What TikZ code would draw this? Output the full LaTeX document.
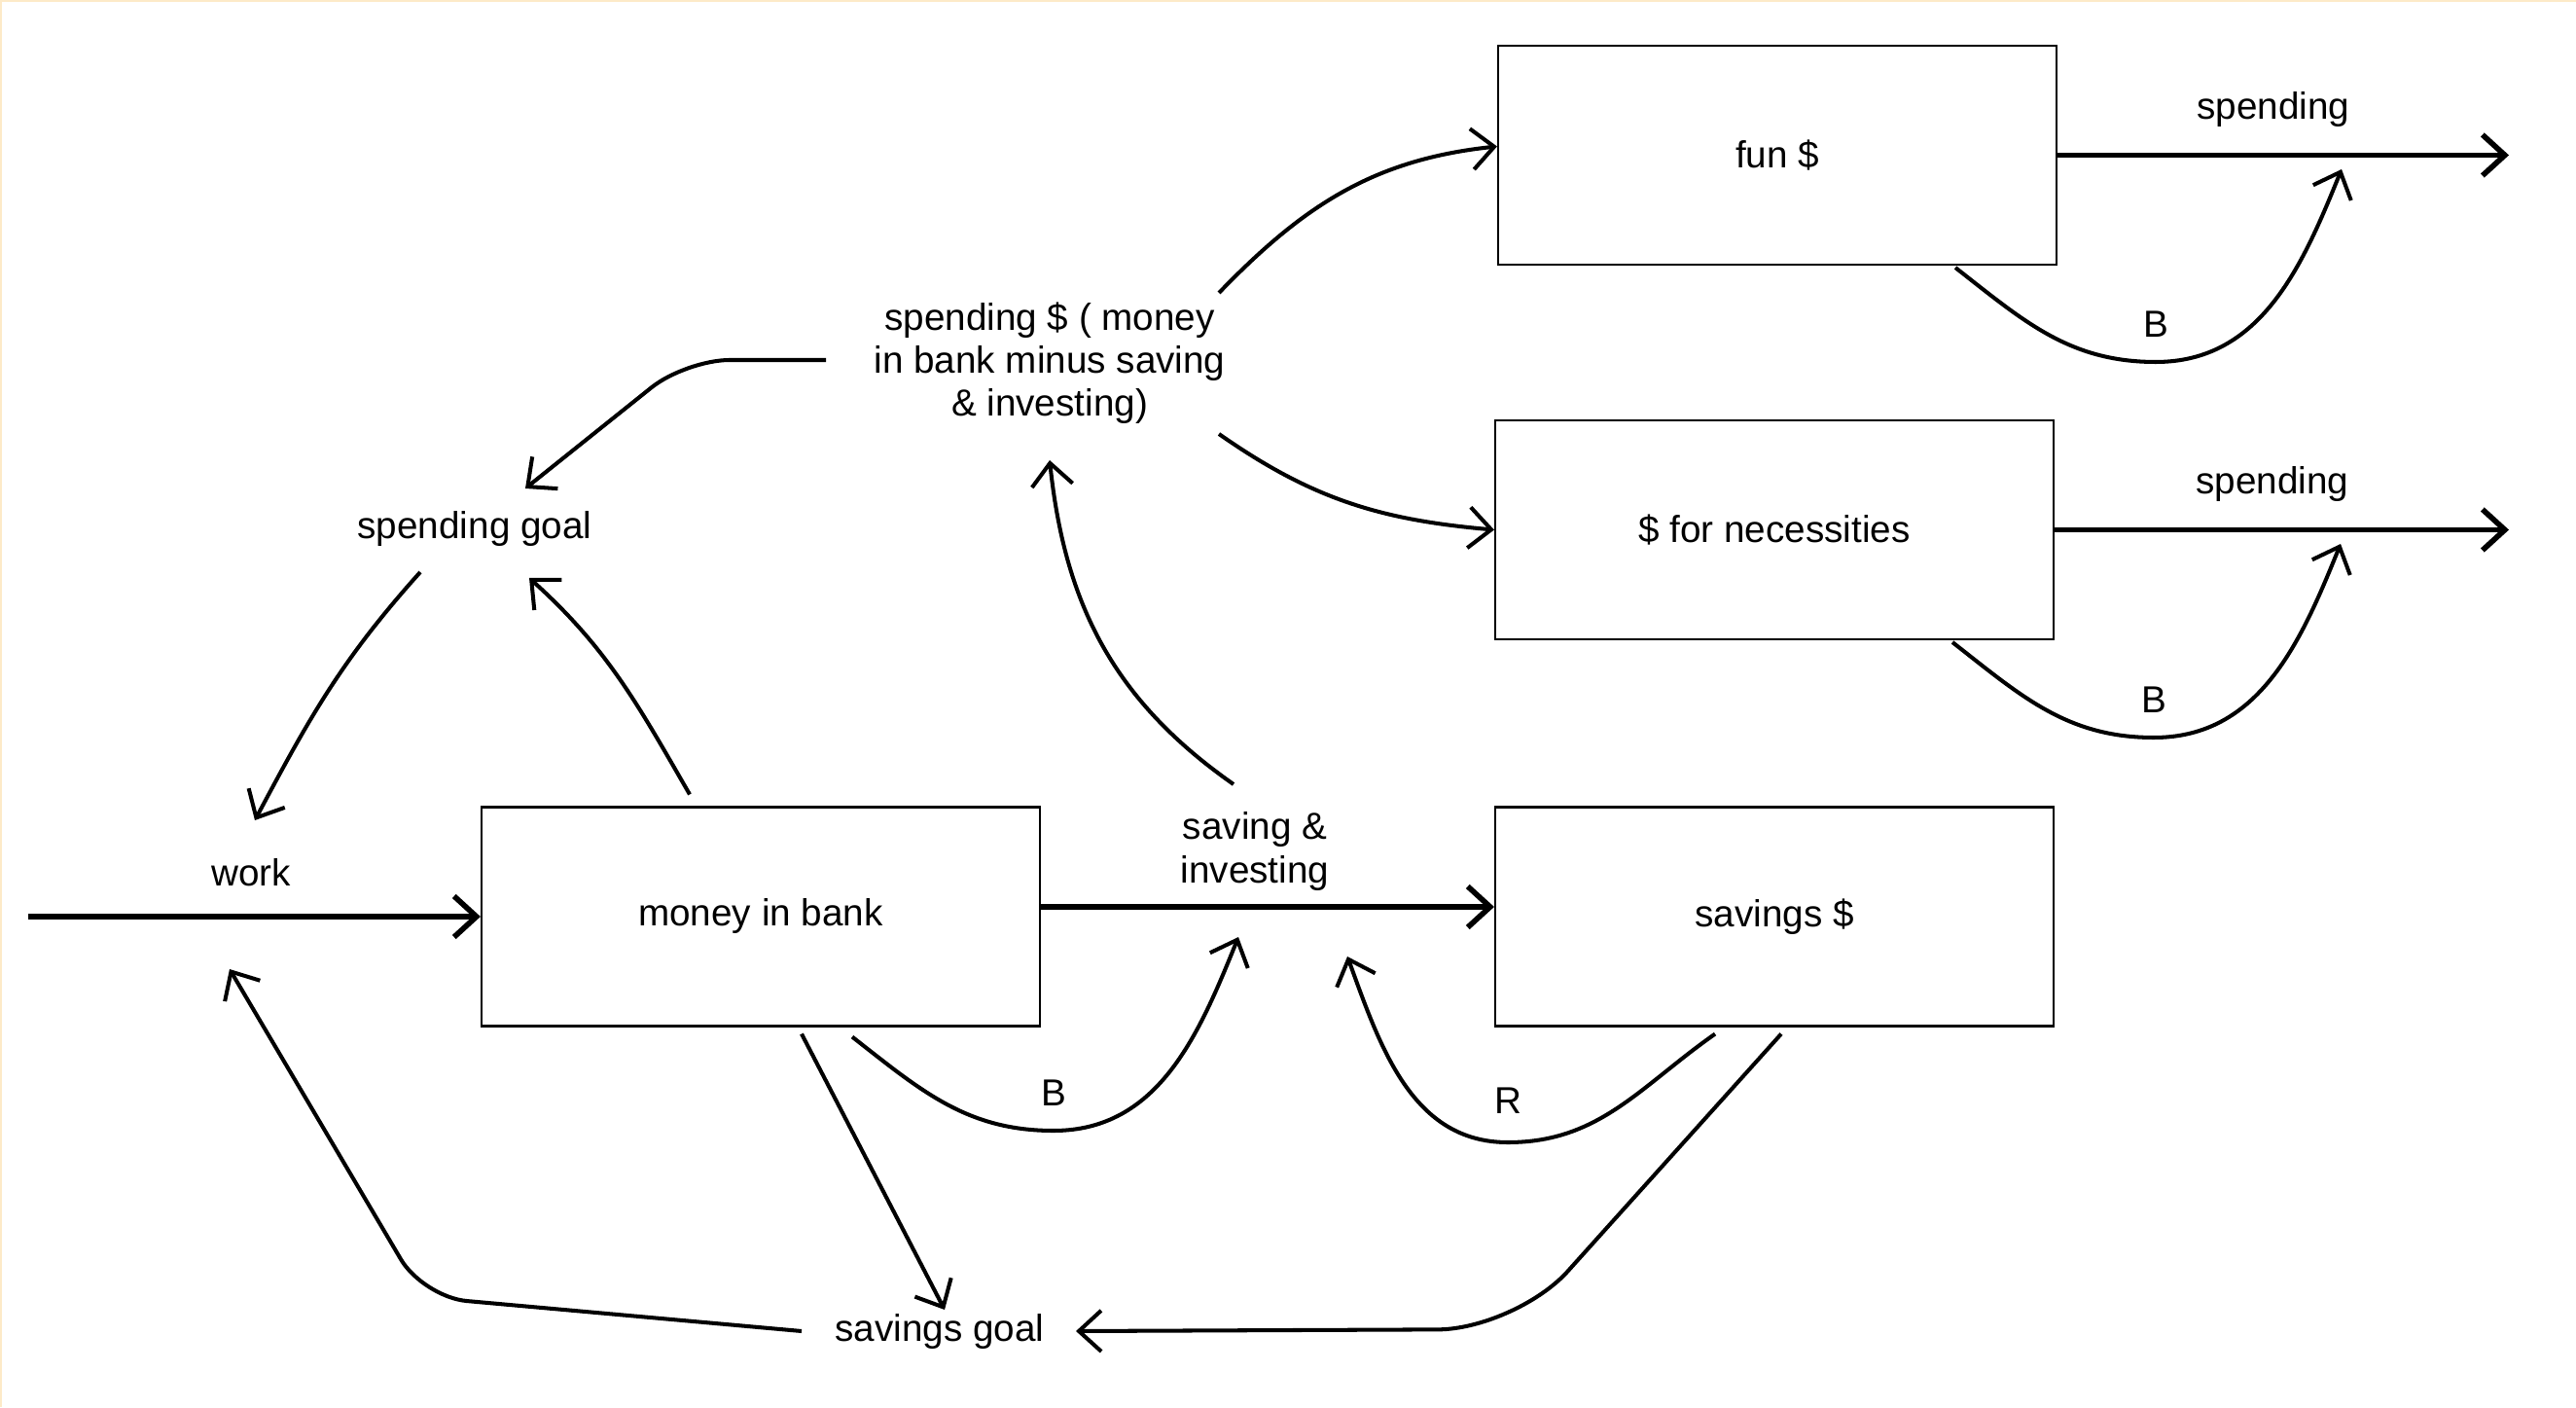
\documentclass[tikz,border=0pt]{standalone}
\usepackage{fontspec}
\setmainfont{Liberation Sans}
\usetikzlibrary{arrows.meta}
\definecolor{edgeband}{RGB}{253,234,200}
\tikzset{
	stock/.style={draw, line width=0.6pt, minimum width=5.74cm, minimum height=2.25cm},
	flow/.style={line width=1.6pt, ->},
	link/.style={line width=1.15pt, ->},
	lbl/.style={inner sep=0pt, align=center},
	>={Straight Barb[length=2.3mm,width=4.2mm]}
}
\begin{document}
\begin{tikzpicture}[font=\fontsize{11}{12.6}\selectfont]

\useasboundingbox (0,0) rectangle (26.48,14.46);
\fill[white] (0,0) rectangle (26.48,14.46);
\draw[edgeband, line width=0.04cm] (0,0) -- (0,14.46) -- (26.48,14.46);

\node[stock] (fun) at (18.27,12.865) {fun \$};
\node[stock] (nec) at (18.24,9.015) {\$ for necessities};
\node[stock] (bank) at (7.82,5.04) {money in bank};
\node[stock] (sav) at (18.24,5.04) {\raisebox{0.6mm}{savings \$}};

\node[lbl] (spend) at (10.79,10.73) {spending \$ ( money\\in bank minus saving\\\& investing)};
\node[lbl] (sgoal) at (4.88,9.02) {spending goal};
\node[lbl] (work) at (2.58,5.49) {work};
\node[lbl] (sinv) at (12.90,5.71) {saving \&\\investing};
\node[lbl] (vgoal) at (9.66,0.78) {savings goal};
\node[lbl] (out1) at (23.37,13.33) {spending};
\node[lbl] (out2) at (23.36,9.48) {spending};
\foreach \n/\x/\y/\t in {b1/22.16/11.13/B, b2/22.14/7.27/B, b3/10.83/3.23/B, r1/15.50/3.15/R} {
	\node[lbl] (\n) at (\x,\y) {\t};
}

\coordinate (src) at (0.29,5.04);
\coordinate (sink1) at (25.79,12.865);
\coordinate (sink2) at (25.79,9.015);

\draw[flow] (src) -- (bank.west);
\draw[flow] ([yshift=1mm]bank.east) -- ([yshift=1mm]sav.west);
\draw[flow] (fun.east) -- (sink1);
\draw[flow] (nec.east) -- (sink2);

\draw[link] ([shift={(1.74,0.72)}]spend.center) to[out=46,in=186] ([yshift=0.9mm]fun.west);
\draw[link] ([shift={(1.74,-0.73)}]spend.center) to[out=-35,in=175] (nec.west);
\draw[link, rounded corners=0.45cm] ([shift={(-2.30,0.03)}]spend.center) -- (7.05,10.76) -- ([shift={(0.52,0.42)}]sgoal.center);
\draw[link] ([shift={(-0.56,-0.44)}]sgoal.center) to[out=-132,in=62] ([shift={(0.04,0.54)}]work.center);
\draw[link] ([shift={(-0.73,0.12)}]bank.north) to[out=120,in=-42] ([shift={(0.56,-0.50)}]sgoal.center);
\draw[link] ([shift={(-0.22,0.69)}]sinv.center) to[out=145,in=-84] ([yshift=-10mm]spend.center);

\draw[link] ([shift={(0.94,-0.10)}]bank.south) to[out=-38,in=180] ([yshift=-3.9mm]b3.center) to[out=0,in=-112] ([shift={(-0.17,-0.88)}]sinv.center);
\draw[link] ([shift={(-0.61,-0.07)}]sav.south) to[out=-145,in=0] ([yshift=-4.3mm]r1.center) to[out=180,in=-70] ([shift={(0.95,-1.08)}]sinv.center);
\foreach \s/\b/\o in {fun/b1/out1, nec/b2/out2} {
	\draw[link] ([shift={(1.83,-0.02)}]\s.south) to[out=-38,in=180] ([yshift=-3.9mm]\b.center) to[out=0,in=-112] ([shift={(0.70,-0.61)}]\o.center);
}

\draw[link] ([shift={(0.42,-0.07)}]bank.south) -- ([shift={(0.05,0.22)}]vgoal.center);
\draw[link, rounded corners=0.8cm] ([shift={(0.07,-0.07)}]sav.south) -- (15.58,0.80) -- ([xshift=14mm]vgoal.center);
\draw[link, rounded corners=0.45cm] ([xshift=-14.2mm]vgoal.center) -- (4.35,1.13) -- ([shift={(-0.22,-0.99)}]work.center);

\end{tikzpicture}
\end{document}
